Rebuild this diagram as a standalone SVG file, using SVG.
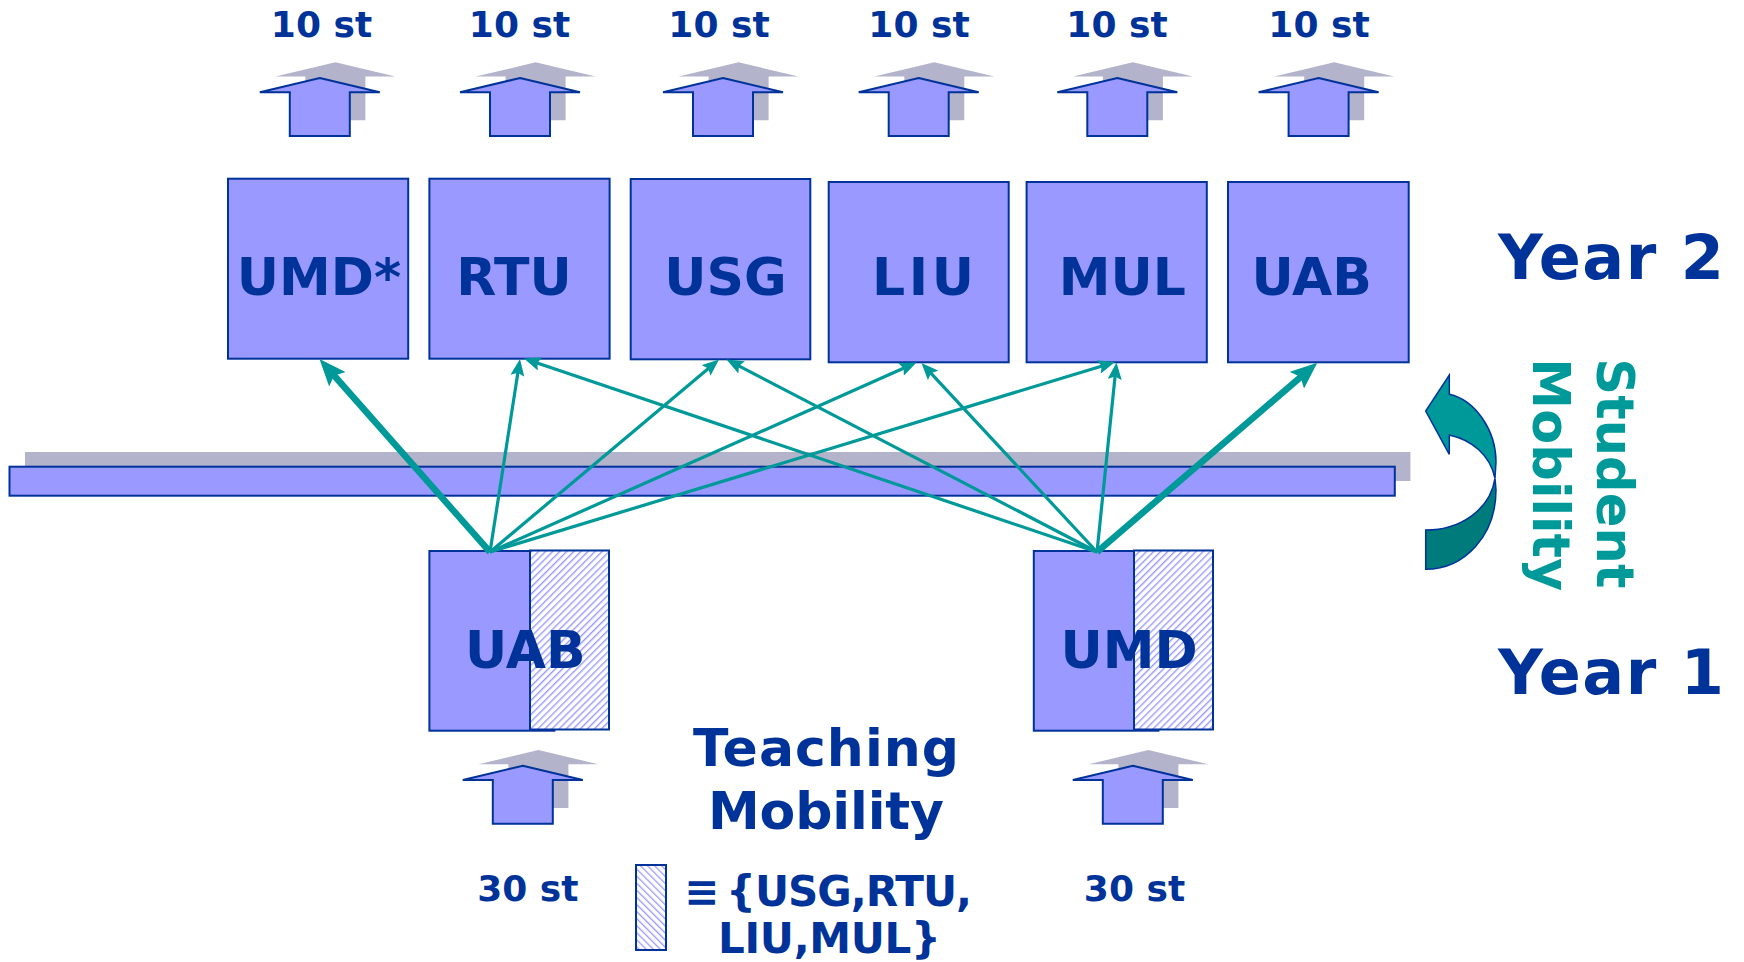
<svg xmlns="http://www.w3.org/2000/svg" xmlns:xlink="http://www.w3.org/1999/xlink" width="1744" height="962" viewBox="0 0 1744 962">
<style>
.t{font-family:"DejaVu Sans","Verdana",sans-serif;font-weight:bold;fill:#003399}
.tl{fill:#009999}
.box{fill:#9999FF;stroke:#003399;stroke-width:2}
.hb{fill:url(#hR);stroke:#003399;stroke-width:2}
.up{fill:#9999FF;stroke:#003399;stroke-width:2;stroke-linejoin:miter}
.sh{fill:#B3B3CC}
.c{stroke:#009999;stroke-width:3.2;fill:none;marker-end:url(#ah)}
.ck{stroke:#009999;stroke-width:6.5;fill:none;marker-end:url(#ahk)}
</style>
<defs>
<path id="upa" d="M0,0 L60,14.3 L30,14.3 L30,58 L-30,58 L-30,14.3 L-60,14.3 Z"/>
<pattern id="hR" width="5" height="5" patternUnits="userSpaceOnUse" patternTransform="rotate(45)">
<rect width="5" height="5" fill="#ffffff"/><rect width="1.4" height="5" fill="#9999FF"/>
</pattern>
<pattern id="hL" width="5" height="5" patternUnits="userSpaceOnUse" patternTransform="rotate(-45)">
<rect width="5" height="5" fill="#ffffff"/><rect width="1.3" height="5" fill="#9999FF"/>
</pattern>
<marker id="ah" markerUnits="userSpaceOnUse" markerWidth="17" markerHeight="14" refX="7" refY="7" orient="auto">
<path d="M0,0 L17,7 L0,14 L3,7 Z" fill="#009999"/>
</marker>
<marker id="ahk" markerUnits="userSpaceOnUse" markerWidth="27" markerHeight="22" refX="9" refY="11" orient="auto">
<path d="M0,0 L27,11 L0,22 L5,11 Z" fill="#009999"/>
</marker>
</defs>
<rect width="1744" height="962" fill="#ffffff"/>

<g id="bar">
<rect x="25" y="452" width="1385.4" height="29" class="sh"/>
<rect x="9.5" y="466.7" width="1385.3" height="29" class="box"/>
</g>

<g id="arrows-top">
<g id="arrow-umd-star">
<use xlink:href="#upa" x="335.4" y="62.3" class="sh"/>
<use xlink:href="#upa" x="319.8" y="78" class="up"/>
<text class="t" x="321.5" y="37" font-size="36" text-anchor="middle">10 st</text>
</g>
<g id="arrow-rtu">
<use xlink:href="#upa" x="535.6" y="62.3" class="sh"/>
<use xlink:href="#upa" x="520" y="78" class="up"/>
<text class="t" x="519.5" y="37" font-size="36" text-anchor="middle">10 st</text>
</g>
<g id="arrow-usg">
<use xlink:href="#upa" x="738.6" y="62.3" class="sh"/>
<use xlink:href="#upa" x="723" y="78" class="up"/>
<text class="t" x="719" y="37" font-size="36" text-anchor="middle">10 st</text>
</g>
<g id="arrow-liu">
<use xlink:href="#upa" x="934.3" y="62.3" class="sh"/>
<use xlink:href="#upa" x="918.7" y="78" class="up"/>
<text class="t" x="919" y="37" font-size="36" text-anchor="middle">10 st</text>
</g>
<g id="arrow-mul">
<use xlink:href="#upa" x="1132.9" y="62.3" class="sh"/>
<use xlink:href="#upa" x="1117.3" y="78" class="up"/>
<text class="t" x="1117" y="37" font-size="36" text-anchor="middle">10 st</text>
</g>
<g id="arrow-uab2">
<use xlink:href="#upa" x="1334.2" y="62.3" class="sh"/>
<use xlink:href="#upa" x="1318.6" y="78" class="up"/>
<text class="t" x="1319" y="37" font-size="36" text-anchor="middle">10 st</text>
</g>
</g>

<g id="node-umd-star">
<rect x="228" y="178.7" width="180.2" height="180" class="box"/>
<text class="t" x="319" y="294.7" font-size="52" text-anchor="middle">UMD*</text>
</g>
<g id="node-rtu">
<rect x="429.4" y="178.7" width="180.2" height="180" class="box"/>
<text class="t" x="514" y="294.7" font-size="52" text-anchor="middle">RTU</text>
</g>
<g id="node-usg">
<rect x="630.7" y="179" width="179.6" height="180.3" class="box"/>
<text class="t" x="725.5" y="294.7" font-size="52" text-anchor="middle">USG</text>
</g>
<g id="node-liu">
<rect x="828.7" y="182" width="180" height="180.3" class="box"/>
<text class="t" x="923" y="294.7" font-size="52" text-anchor="middle" textLength="102">LIU</text>
</g>
<g id="node-mul">
<rect x="1026.6" y="182" width="180.2" height="180.3" class="box"/>
<text class="t" x="1122.3" y="294.7" font-size="52" text-anchor="middle">MUL</text>
</g>
<g id="node-uab2">
<rect x="1228" y="182" width="180.7" height="180.3" class="box"/>
<text class="t" x="1311.7" y="294.7" font-size="52" text-anchor="middle">UAB</text>
</g>

<g id="node-uab">
<rect x="429.4" y="551" width="125" height="179.7" class="box"/>
<rect x="530" y="550.5" width="79" height="179" class="hb"/>
<text class="t" x="525.3" y="668" font-size="52" text-anchor="middle">UAB</text>
</g>
<g id="node-umd">
<rect x="1033.8" y="551" width="124.6" height="179.7" class="box"/>
<rect x="1134" y="550.5" width="79" height="179" class="hb"/>
<text class="t" x="1129" y="668" font-size="52" text-anchor="middle">UMD</text>
</g>

<g id="arrows-bottom">
<g id="arrow-uab-in">
<use xlink:href="#upa" x="538.4" y="750" class="sh"/>
<use xlink:href="#upa" x="522.8" y="765.7" class="up"/>
<text class="t" x="527.8" y="901" font-size="36" text-anchor="middle">30 st</text>
</g>
<g id="arrow-umd-in">
<use xlink:href="#upa" x="1148.4" y="750" class="sh"/>
<use xlink:href="#upa" x="1132.8" y="765.7" class="up"/>
<text class="t" x="1134.5" y="901" font-size="36" text-anchor="middle">30 st</text>
</g>
</g>

<g id="connectors">
<line class="c" x1="490" y1="552" x2="518.46" y2="368.88"/>
<line class="c" x1="490" y1="552" x2="711.35" y2="365.93"/>
<line class="c" x1="490" y1="552" x2="907.36" y2="366.56"/>
<line class="c" x1="490" y1="552" x2="1105.43" y2="364.91"/>
<line class="c" x1="1097" y1="552" x2="533.47" y2="361.70"/>
<line class="c" x1="1097" y1="552" x2="735.37" y2="364.11"/>
<line class="c" x1="1097" y1="552" x2="928.30" y2="370.33"/>
<line class="c" x1="1097" y1="552" x2="1115.48" y2="372.45"/>
<line class="ck" x1="490" y1="552" x2="331.42" y2="372.49"/>
<line class="ck" x1="1097" y1="552" x2="1303.65" y2="374.43"/>
</g>

<g id="label-teaching">
<text class="t" font-size="52" text-anchor="middle"><tspan x="826" y="765.5" textLength="266">Teaching</tspan><tspan x="826" y="829" textLength="236">Mobility</tspan></text>
</g>

<g id="legend">
<rect x="636" y="865" width="30" height="85" fill="url(#hL)" stroke="#003399" stroke-width="2"/>
<text class="t" font-size="42"><tspan x="684" y="905.5">≡</tspan><tspan x="726" y="905.5" textLength="246">{USG,RTU,</tspan><tspan x="718" y="953" textLength="223">LIU,MUL}</tspan></text>
</g>

<g id="label-years">
<text class="t" x="1498" y="279.3" font-size="62" textLength="226">Year 2</text>
<text class="t" x="1498" y="693.7" font-size="62" textLength="226">Year 1</text>
</g>

<g id="student-mobility">
<path d="M1449.3,394.3 C1475,400 1496,430 1496,462 L1495,478.3 C1490,455 1472,440 1449.3,435 L1449.3,454.3 L1425.7,411 L1449.3,375 Z" fill="#009999" stroke="#003399" stroke-width="1.5" stroke-linejoin="miter"/>
<path d="M1495,478.3 L1496,490 C1496,535 1465,569.3 1425.7,569.3 L1425.7,530 C1460,530 1490,510 1495,478.3 Z" fill="#007B7B" stroke="#003399" stroke-width="1.5"/>
<g transform="translate(1596.7,0) rotate(90)">
<text class="t tl" font-size="51"><tspan x="358.3" y="0" textLength="230">Student</tspan><tspan x="358.3" y="63.4" textLength="233">Mobility</tspan></text>
</g>
</g>
</svg>
